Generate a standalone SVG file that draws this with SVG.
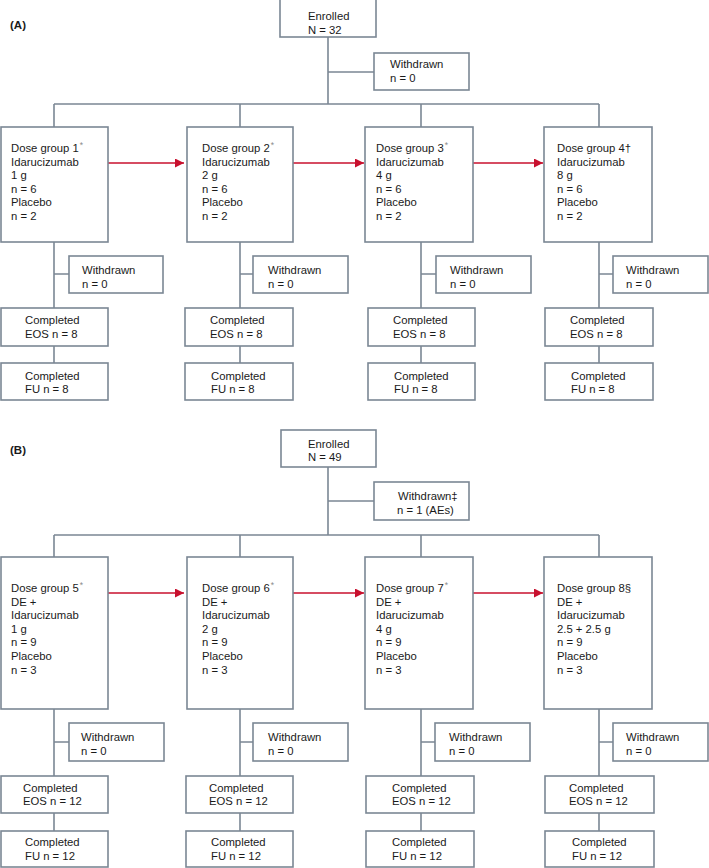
<svg xmlns="http://www.w3.org/2000/svg" width="709" height="868" viewBox="0 0 709 868">
<style>
  .b{fill:#fff;stroke:#7b8794;stroke-width:1.6}
  .l{fill:none;stroke:#7b8794;stroke-width:1.6}
  .r{fill:none;stroke:#c8102e;stroke-width:1.6}
  text{font-family:"Liberation Sans",Arial,sans-serif;font-size:11.3px;fill:#1a1a1a}
  .h{font-weight:bold;font-size:11.5px}
  .s{font-size:8.5px;fill:#8a8a8a}
</style>
<defs>
  <marker id="ah" viewBox="0 0 10 10" refX="10" refY="5" markerWidth="10" markerHeight="9" markerUnits="userSpaceOnUse" orient="auto">
    <path d="M0,0 L10,5 L0,10 z" fill="#c8102e"/>
  </marker>
</defs>
<rect width="709" height="868" fill="#fff"/>

<g id="connectors">
  <!-- Panel A -->
  <path class="l" d="M328,37 V104 M328,72 H374 M54,104 H599 M54,104 V127 M240,104 V127 M421,104 V127 M599,104 V127"/>
  <path class="l" d="M54,242 V308 M54,274 H69 M54,346 V363"/>
  <path class="l" d="M240,242 V308 M240,274 H253 M240,346 V363"/>
  <path class="l" d="M421,242 V308 M421,274 H436 M421,346 V363"/>
  <path class="l" d="M599,242 V308 M599,274 H613 M599,346 V363"/>
  <path class="r" d="M108,163 H184" marker-end="url(#ah)"/>
  <path class="r" d="M293,163 H364" marker-end="url(#ah)"/>
  <path class="r" d="M473,163 H543" marker-end="url(#ah)"/>
  <!-- Panel B -->
  <path class="l" d="M328,467 V535 M328,501 H374 M54,535 H599 M54,535 V557 M240,535 V557 M421,535 V557 M599,535 V557"/>
  <path class="l" d="M54,709 V776 M54,742 H69 M54,813 V831"/>
  <path class="l" d="M240,709 V776 M240,742 H253 M240,813 V831"/>
  <path class="l" d="M421,709 V776 M421,742 H435 M421,813 V831"/>
  <path class="l" d="M599,709 V776 M599,742 H613 M599,813 V831"/>
  <path class="r" d="M108,593 H184" marker-end="url(#ah)"/>
  <path class="r" d="M293,593 H364" marker-end="url(#ah)"/>
  <path class="r" d="M473,593 H543" marker-end="url(#ah)"/>
</g>

<text class="h" x="10" y="29">(A)</text>
<text class="h" x="10" y="454">(B)</text>

<!-- Panel A nodes -->
<g id="a-enrolled"><rect class="b" x="280" y="-1" width="96" height="38"/><text x="308" y="20">Enrolled</text><text x="308" y="33.5">N = 32</text></g>
<g id="a-withdrawn"><rect class="b" x="374" y="53" width="95" height="37"/><text x="390" y="68">Withdrawn</text><text x="390" y="82">n = 0</text></g>

<g id="a-dg1"><rect class="b" x="1" y="127" width="107" height="115"/>
  <text x="11" y="152">Dose group 1<tspan class="s" dx="1" dy="-4">*</tspan></text>
  <text x="11" y="165.6">Idarucizumab</text><text x="11" y="179.2">1 g</text><text x="11" y="192.8">n = 6</text><text x="11" y="206.4">Placebo</text><text x="11" y="220">n = 2</text></g>
<g id="a-dg2"><rect class="b" x="187" y="127" width="106" height="115"/>
  <text x="202" y="152">Dose group 2<tspan class="s" dx="1" dy="-4">*</tspan></text>
  <text x="202" y="165.6">Idarucizumab</text><text x="202" y="179.2">2 g</text><text x="202" y="192.8">n = 6</text><text x="202" y="206.4">Placebo</text><text x="202" y="220">n = 2</text></g>
<g id="a-dg3"><rect class="b" x="365" y="127" width="108" height="115"/>
  <text x="376" y="152">Dose group 3<tspan class="s" dx="1" dy="-4">*</tspan></text>
  <text x="376" y="165.6">Idarucizumab</text><text x="376" y="179.2">4 g</text><text x="376" y="192.8">n = 6</text><text x="376" y="206.4">Placebo</text><text x="376" y="220">n = 2</text></g>
<g id="a-dg4"><rect class="b" x="544" y="127" width="108" height="115"/>
  <text x="557" y="152">Dose group 4†</text>
  <text x="557" y="165.6">Idarucizumab</text><text x="557" y="179.2">8 g</text><text x="557" y="192.8">n = 6</text><text x="557" y="206.4">Placebo</text><text x="557" y="220">n = 2</text></g>

<g id="a-w1"><rect class="b" x="69" y="256" width="94" height="37"/><text x="82" y="274">Withdrawn</text><text x="82" y="288">n = 0</text></g>
<g id="a-w2"><rect class="b" x="253" y="256" width="95" height="37"/><text x="268" y="274">Withdrawn</text><text x="268" y="288">n = 0</text></g>
<g id="a-w3"><rect class="b" x="436" y="256" width="95" height="37"/><text x="450" y="274">Withdrawn</text><text x="450" y="288">n = 0</text></g>
<g id="a-w4"><rect class="b" x="613" y="256" width="95" height="37"/><text x="626" y="274">Withdrawn</text><text x="626" y="288">n = 0</text></g>

<g id="a-e1"><rect class="b" x="1" y="308" width="107" height="38"/><text x="25" y="324">Completed</text><text x="25" y="337.5">EOS n = 8</text></g>
<g id="a-e2"><rect class="b" x="185" y="308" width="108" height="38"/><text x="210" y="324">Completed</text><text x="210" y="337.5">EOS n = 8</text></g>
<g id="a-e3"><rect class="b" x="368" y="308" width="107" height="38"/><text x="393" y="324">Completed</text><text x="393" y="337.5">EOS n = 8</text></g>
<g id="a-e4"><rect class="b" x="545" y="308" width="108" height="38"/><text x="570" y="324">Completed</text><text x="570" y="337.5">EOS n = 8</text></g>

<g id="a-f1"><rect class="b" x="1" y="363" width="107" height="37"/><text x="25" y="379.5">Completed</text><text x="25" y="392.5">FU n = 8</text></g>
<g id="a-f2"><rect class="b" x="185" y="363" width="108" height="37"/><text x="211" y="379.5">Completed</text><text x="211" y="392.5">FU n = 8</text></g>
<g id="a-f3"><rect class="b" x="368" y="363" width="107" height="37"/><text x="394" y="379.5">Completed</text><text x="394" y="392.5">FU n = 8</text></g>
<g id="a-f4"><rect class="b" x="545" y="363" width="108" height="37"/><text x="571" y="379.5">Completed</text><text x="571" y="392.5">FU n = 8</text></g>

<!-- Panel B nodes -->
<g id="b-enrolled"><rect class="b" x="281" y="430" width="95" height="37"/><text x="308" y="448">Enrolled</text><text x="308" y="461">N = 49</text></g>
<g id="b-withdrawn"><rect class="b" x="374" y="482" width="95" height="38"/><text x="398" y="500">Withdrawn‡</text><text x="397" y="513.5">n = 1 (AEs)</text></g>

<g id="b-dg5"><rect class="b" x="1" y="557" width="107" height="152"/>
  <text x="11" y="592">Dose group 5<tspan class="s" dx="1" dy="-4">*</tspan></text>
  <text x="11" y="605.6">DE +</text><text x="11" y="619.2">Idarucizumab</text><text x="11" y="632.8">1 g</text><text x="11" y="646.4">n = 9</text><text x="11" y="660">Placebo</text><text x="11" y="673.6">n = 3</text></g>
<g id="b-dg6"><rect class="b" x="187" y="557" width="106" height="152"/>
  <text x="202" y="592">Dose group 6<tspan class="s" dx="1" dy="-4">*</tspan></text>
  <text x="202" y="605.6">DE +</text><text x="202" y="619.2">Idarucizumab</text><text x="202" y="632.8">2 g</text><text x="202" y="646.4">n = 9</text><text x="202" y="660">Placebo</text><text x="202" y="673.6">n = 3</text></g>
<g id="b-dg7"><rect class="b" x="365" y="557" width="108" height="152"/>
  <text x="376" y="592">Dose group 7<tspan class="s" dx="1" dy="-4">*</tspan></text>
  <text x="376" y="605.6">DE +</text><text x="376" y="619.2">Idarucizumab</text><text x="376" y="632.8">4 g</text><text x="376" y="646.4">n = 9</text><text x="376" y="660">Placebo</text><text x="376" y="673.6">n = 3</text></g>
<g id="b-dg8"><rect class="b" x="544" y="557" width="108" height="152"/>
  <text x="557" y="592">Dose group 8§</text>
  <text x="557" y="605.6">DE +</text><text x="557" y="619.2">Idarucizumab</text><text x="557" y="632.8">2.5 + 2.5 g</text><text x="557" y="646.4">n = 9</text><text x="557" y="660">Placebo</text><text x="557" y="673.6">n = 3</text></g>

<g id="b-w5"><rect class="b" x="69" y="723" width="95" height="38"/><text x="81" y="741">Withdrawn</text><text x="81" y="755">n = 0</text></g>
<g id="b-w6"><rect class="b" x="253" y="723" width="95" height="38"/><text x="268" y="741">Withdrawn</text><text x="268" y="755">n = 0</text></g>
<g id="b-w7"><rect class="b" x="435" y="723" width="95" height="38"/><text x="449" y="741">Withdrawn</text><text x="449" y="755">n = 0</text></g>
<g id="b-w8"><rect class="b" x="613" y="723" width="95" height="38"/><text x="626" y="741">Withdrawn</text><text x="626" y="755">n = 0</text></g>

<g id="b-e5"><rect class="b" x="1" y="776" width="107" height="37"/><text x="23" y="792">Completed</text><text x="23" y="805">EOS n = 12</text></g>
<g id="b-e6"><rect class="b" x="186" y="776" width="107" height="37"/><text x="209" y="792">Completed</text><text x="209" y="805">EOS n = 12</text></g>
<g id="b-e7"><rect class="b" x="366" y="776" width="108" height="37"/><text x="392" y="792">Completed</text><text x="392" y="805">EOS n = 12</text></g>
<g id="b-e8"><rect class="b" x="545" y="776" width="109" height="37"/><text x="569" y="792">Completed</text><text x="569" y="805">EOS n = 12</text></g>

<g id="b-f5"><rect class="b" x="1" y="831" width="107" height="36"/><text x="25" y="846">Completed</text><text x="25" y="860">FU n = 12</text></g>
<g id="b-f6"><rect class="b" x="186" y="831" width="107" height="36"/><text x="211" y="846">Completed</text><text x="211" y="860">FU n = 12</text></g>
<g id="b-f7"><rect class="b" x="366" y="831" width="108" height="36"/><text x="392" y="846">Completed</text><text x="392" y="860">FU n = 12</text></g>
<g id="b-f8"><rect class="b" x="545" y="831" width="109" height="36"/><text x="572" y="846">Completed</text><text x="572" y="860">FU n = 12</text></g>
</svg>
